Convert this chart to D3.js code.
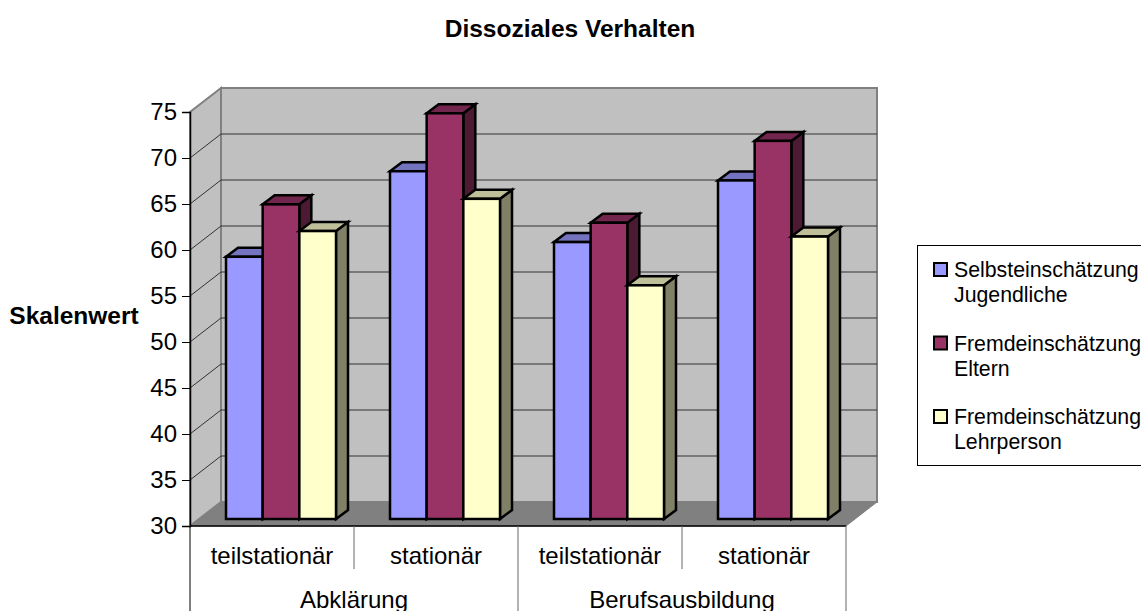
<!DOCTYPE html>
<html>
<head>
<meta charset="utf-8">
<script src="https://d3js.org/d3.v7.min.js"></script>
<style>
    html, body { margin: 0; padding: 0; background: #fff; overflow: hidden; }
    text { font-family: "Liberation Sans", Arial, sans-serif; fill: #000; }
</style>
</head>
<body>
<svg id="chart" width="1141" height="611"></svg>
<script>
const title = "Dissoziales Verhalten";
const yTitle = "Skalenwert";
const groups = ["Abklärung", "Berufsausbildung"];
const categories = ["teilstationär", "stationär", "teilstationär", "stationär"];
const seriesNames = [["Selbsteinschätzung", "Jugendliche"], ["Fremdeinschätzung", "Eltern"], ["Fremdeinschätzung", "Lehrperson"]];
const selbst = [58.5, 67.8, 60.1, 66.8];
const eltern = [64.2, 74.1, 62.2, 71.1];
const lehrer = [61.3, 64.8, 55.4, 60.7];
const seriesValues = [selbst, eltern, lehrer];
const yTicks = [30, 35, 40, 45, 50, 55, 60, 65, 70, 75];

const seriesColors = ["#9999ff", "#993366", "#ffffcc"];
const topColors = ["#7373bf", "#73264d", "#bfbf99"];
const sideColors = ["#4d4d80", "#4d1a33", "#808066"];

const svg = d3.select("#chart");

const plotLeft = 190, plotRight = 846, plotBottom = 526, plotTop = 112;
const depthX = 31, depthY = 24;      // wall depth
const barDepthX = 12, barDepthY = 9; // depth of a bar
const barShiftX = 9, barShiftY = 7;  // bars sit a bit behind the front plane

const y = d3.scaleLinear().domain([30, 75]).range([plotBottom, plotTop]);
const x0 = d3.scaleBand().domain(d3.range(categories.length)).range([plotLeft, plotRight]);
const x1 = d3.scaleBand().domain(d3.range(seriesNames.length)).range([27, 137]);

const poly = pts => d3.line()(pts) + "Z";

// walls and floor
const walls = svg.append("g");
walls.append("path")
    .attr("d", poly([[plotLeft, plotBottom], [plotLeft + depthX, plotBottom - depthY], [plotLeft + depthX, plotTop - depthY], [plotLeft, plotTop]]))
    .attr("fill", "#c0c0c0").attr("stroke", "#808080").attr("stroke-width", 2);
walls.append("rect")
    .attr("x", plotLeft + depthX).attr("y", plotTop - depthY)
    .attr("width", plotRight - plotLeft).attr("height", plotBottom - plotTop)
    .attr("fill", "#c0c0c0").attr("stroke", "#808080").attr("stroke-width", 2);

// gridlines, the outer two are the wall edges
yTicks.slice(1, -1).forEach(t => {
    walls.append("path")
        .attr("d", d3.line()([[plotLeft, y(t)], [plotLeft + depthX, y(t) - depthY], [plotRight + depthX, y(t) - depthY]]))
        .attr("fill", "none").attr("stroke", "#333").attr("stroke-width", 1);
});

walls.append("path")
    .attr("d", poly([[plotLeft, plotBottom], [plotLeft + depthX, plotBottom - depthY], [plotRight + depthX, plotBottom - depthY], [plotRight, plotBottom]]))
    .attr("fill", "#808080").attr("stroke", "#808080");

// bars
const bars = svg.append("g");
categories.forEach((c, i) => {
    seriesNames.forEach((s, j) => {
        const v = seriesValues[j][i];
        const bx = x0(i) + x1(j) + barShiftX;
        const w = x1.bandwidth();
        const by = y(30) - barShiftY;
        const ty = y(v) - barShiftY;
        const g = bars.append("g").attr("stroke", "#000").attr("stroke-width", 2.5).attr("stroke-linejoin", "miter");
        g.append("path").attr("fill", sideColors[j])
            .attr("d", poly([[bx + w, by], [bx + w + barDepthX, by - barDepthY], [bx + w + barDepthX, ty - barDepthY], [bx + w, ty]]));
        g.append("path").attr("fill", topColors[j])
            .attr("d", poly([[bx, ty], [bx + barDepthX, ty - barDepthY], [bx + w + barDepthX, ty - barDepthY], [bx + w, ty]]));
        g.append("rect").attr("fill", seriesColors[j])
            .attr("x", bx).attr("y", ty).attr("width", w).attr("height", by - ty);
    });
});

// y axis
const yAxis = svg.append("g")
    .attr("transform", `translate(${plotLeft},0)`)
    .call(d3.axisLeft(y).tickValues(yTicks).tickSize(8).tickPadding(5).tickFormat(d3.format("d")));
yAxis.select(".domain").attr("stroke", "#000").attr("stroke-width", 1.5);
yAxis.selectAll("line").attr("stroke", "#000");
yAxis.selectAll("text").attr("font-size", 24).style("font-family", "'Liberation Sans', Arial, sans-serif").style("fill", "#000");

// category axis with two levels
const cats = svg.append("g");
cats.append("line").attr("x1", plotLeft).attr("x2", plotRight).attr("y1", plotBottom).attr("y2", plotBottom)
    .attr("stroke", "#000").attr("stroke-width", 1.5);
d3.range(categories.length + 1).forEach(i => {
    const px = plotLeft + i * x0.bandwidth();
    const major = i % 2 === 0;
    cats.append("line").attr("x1", px).attr("x2", px).attr("y1", plotBottom).attr("y2", major ? 611 : 569)
        .attr("stroke", i === 0 ? "#000" : "#666").attr("stroke-width", 1);
});
categories.forEach((c, i) => {
    cats.append("text").attr("x", x0(i) + x0.bandwidth() / 2).attr("y", 564)
        .attr("text-anchor", "middle").attr("font-size", 24).text(c);
});
groups.forEach((g, i) => {
    cats.append("text").attr("x", x0(i * 2) + x0.bandwidth()).attr("y", 608)
        .attr("text-anchor", "middle").attr("font-size", 24).text(g);
});

// titles
svg.append("text").attr("x", 570).attr("y", 37).attr("text-anchor", "middle")
    .attr("font-size", 24.5).attr("font-weight", "bold").text(title);
svg.append("text").attr("x", 74).attr("y", 324).attr("text-anchor", "middle")
    .attr("font-size", 24.5).attr("font-weight", "bold").text(yTitle);

// legend
const legend = svg.append("g");
legend.append("rect").attr("x", 917.5).attr("y", 245.5).attr("width", 260).attr("height", 220)
    .attr("fill", "#fff").attr("stroke", "#000").attr("stroke-width", 1);
seriesNames.forEach((s, j) => {
    const ly = 270 + j * 73.5;
    legend.append("rect").attr("x", 934).attr("y", ly - 7).attr("width", 13).attr("height", 13)
        .attr("fill", seriesColors[j]).attr("stroke", "#000").attr("stroke-width", 2);
    legend.append("text").attr("x", 954).attr("y", ly + 7).attr("font-size", 21.3).text(s[0]);
    legend.append("text").attr("x", 954).attr("y", ly + 32).attr("font-size", 21.3).text(s[1]);
});
</script>
</body>
</html>
